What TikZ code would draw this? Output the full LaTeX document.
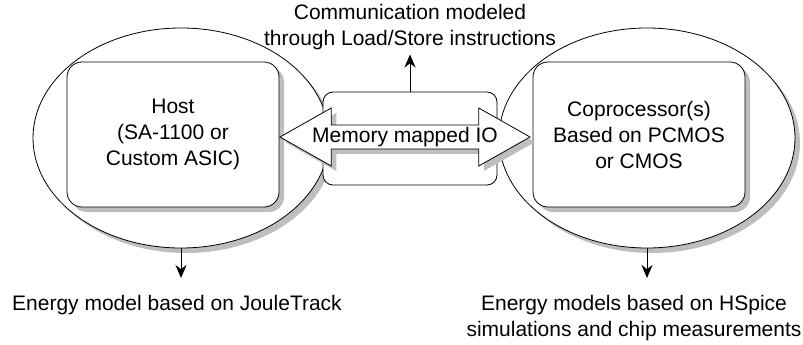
\documentclass[tikz,border=0pt]{standalone}
\usepackage{fontspec}
\setmainfont{Liberation Sans}
\usetikzlibrary{arrows.meta,positioning,shapes.geometric,shapes.arrows,shadows}
\definecolor{shade}{HTML}{BEBEBE}

\begin{document}
\begin{tikzpicture}[x=1pt,y=-1pt,font=\fontsize{21}{26}\selectfont,line width=0.8pt,
  gshadow/.style={general shadow={fill=shade,shadow xshift=5pt,shadow yshift=-5pt}},
  blob/.style={ellipse,draw,fill=white,minimum width=296pt,minimum height=220pt,gshadow},
  unit/.style={draw,fill=white,rounded corners=15pt,minimum width=212pt,minimum height=145pt,align=center,gshadow},
  link/.style={-{Stealth[length=13pt,width=11pt]}}]
\useasboundingbox (0,0) rectangle (803,345);
\node[blob] (hostzone) at (181,138) {};
\node[blob] (copzone) at (647,138) {};
\node[unit] (host) at (173,134.5) {Host\\(SA-1100 or\\Custom ASIC)};
\node[unit] (cop) at (639,134.5) {Coprocessor(s)\\Based on PCMOS\\or CMOS};
\node[draw,fill=white,rounded corners=10pt,minimum width=174pt,minimum height=93pt] (bus) at (410,138.5) {};
\node[double arrow,draw,fill=white,gshadow,minimum height=250pt,minimum width=58pt,
  double arrow head extend=14.5pt,double arrow tip angle=59,inner sep=0pt] (mmio) at (405,137) {Memory mapped IO};
\node[align=center] (comm) at (410,27) {Communication modeled\\through Load/Store instructions};
\node (hostnrg) at (177,305) {Energy model based on JouleTrack};
\node[align=center] (copnrg) at (634,318) {Energy models based on HSpice\\simulations and chip measurements};
\coordinate (hostend) at (181,278);
\coordinate (copend) at (647,278);
\draw[link,shorten >=1pt] (bus.north) -- (comm.south);
\draw[link] (hostzone.south) -- (hostend);
\draw[link] (copzone.south) -- (copend);
\end{tikzpicture}
\end{document}
